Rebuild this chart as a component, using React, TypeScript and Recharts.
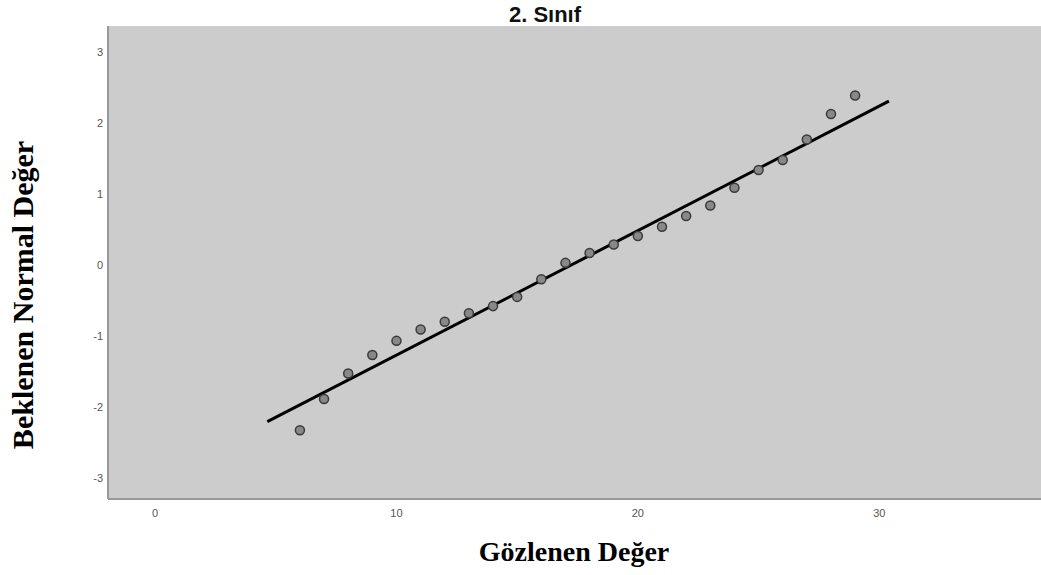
import React from "react";
import { ScatterChart, Scatter, XAxis, YAxis, CartesianGrid, Customized } from "recharts";

// Q-Q plot, 2. Sınıf
const observed = [6, 7, 8, 9, 10, 11, 12, 13, 14, 15, 16, 17, 18, 19, 20, 21, 22, 23, 24, 25, 26, 27, 28, 29];
const expected = [
  -2.33, -1.89, -1.53, -1.27, -1.07, -0.91, -0.8, -0.68, -0.58, -0.45, -0.2, 0.03,
  0.17, 0.29, 0.41, 0.54, 0.69, 0.84, 1.09, 1.34, 1.48, 1.77, 2.13, 2.39,
];
const lineX = [4.65, 30.4];
const lineY = [-2.21, 2.31];
const xTicks = [0, 10, 20, 30];
const yTicks = [-3, -2, -1, 0, 1, 2, 3];

const points = observed.map((x, i) => ({ x, y: expected[i] }));
const refLine = lineX.map((x, i) => ({ x, y: lineY[i] }));

const W = 1041;
const H = 575;

const Labels = () => (
  <g>
    <text x={545} y={22} textAnchor="middle" fontFamily="Liberation Sans, Arial, sans-serif" fontWeight="bold" fontSize={22} fill="#111">
      2. Sınıf
    </text>
    <text x={574} y={561} textAnchor="middle" fontFamily="Liberation Serif, Times New Roman, serif" fontWeight="bold" fontSize={28} fill="#000">
      Gözlenen Değer
    </text>
    <text
      x={0}
      y={0}
      transform="translate(33,295) rotate(-90)"
      textAnchor="middle"
      fontFamily="Liberation Serif, Times New Roman, serif"
      fontWeight="bold"
      fontSize={30}
      fill="#000"
    >
      Beklenen Normal Değer
    </text>
  </g>
);

export default function App() {
  const tick = { fontSize: 11, fill: "#555", fontFamily: "Liberation Sans, Arial, sans-serif" };
  return (
    <div style={{ position: "absolute", left: 0, top: 0, width: W, height: H, background: "#fff" }}>
      <ScatterChart width={W} height={H} margin={{ top: 26, right: 0, left: 0, bottom: 0 }}>
        <CartesianGrid horizontal={false} vertical={false} fill="#cccccc" stroke="#e2e2e2" />
        <XAxis
          type="number"
          dataKey="x"
          domain={[-1.95, 36.7]}
          ticks={xTicks}
          allowDataOverflow
          height={76}
          tickLine={false}
          tickSize={8}
          tick={tick}
          axisLine={{ stroke: "#999", strokeWidth: 2 }}
        />
        <YAxis
          type="number"
          dataKey="y"
          domain={[-3.3, 3.37]}
          ticks={yTicks}
          allowDataOverflow
          width={108}
          tickLine={false}
          tickSize={3}
          tick={tick}
          axisLine={{ stroke: "#999", strokeWidth: 2 }}
        />
        <Scatter
          data={refLine}
          line={{ stroke: "#000", strokeWidth: 3 }}
          shape={() => null}
          isAnimationActive={false}
        />
        <Scatter
          data={points}
          fill="#888"
          stroke="#3a3a3a"
          strokeWidth={1.5}
          shape="circle"
          isAnimationActive={false}
        />
        <Customized component={Labels} />
      </ScatterChart>
    </div>
  );
}
